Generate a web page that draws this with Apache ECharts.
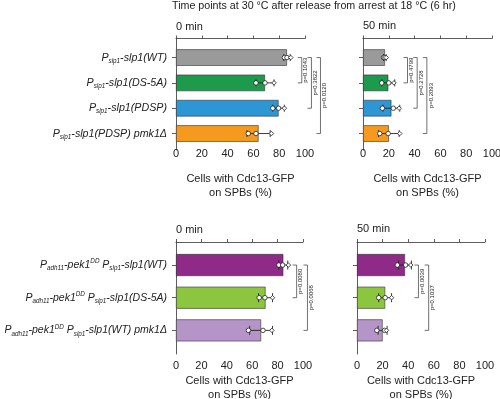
<!DOCTYPE html>
<html><head><meta charset="utf-8">
<script src="https://cdn.jsdelivr.net/npm/echarts@6/dist/echarts.min.js"></script>
<style>html,body{margin:0;padding:0;background:#fff}#c{width:500px;height:399px}</style>
</head><body><div id="c"></div>
<script>
// ---- data ----
const topLabels = [
  '{p|P}{s|slp1}{p|-slp1(WT)}',
  '{p|P}{s|slp1}{p|-slp1(DS-5A)}',
  '{p|P}{s|slp1}{p|-slp1(PDSP)}',
  '{p|P}{s|slp1}{p|-slp1(PDSP) pmk1Δ}'
];
const botLabels = [
  '{p|P}{s|adh11}{p|-pek1}{u|DD}{p| P}{s|slp1}{p|-slp1(WT)}',
  '{p|P}{s|adh11}{p|-pek1}{u|DD}{p| P}{s|slp1}{p|-slp1(DS-5A)}',
  '{p|P}{s|adh11}{p|-pek1}{u|DD}{p| P}{s|slp1}{p|-slp1(WT) pmk1Δ}'
];
const xTicks = [0, 20, 40, 60, 80, 100];

const top0Mean = [86, 69, 79.5, 64];
const top0Err = [2.5, 7, 4.5, 9];
const top0Pts = [[84, 86, 89], [62, 69, 76], [75, 79.5, 84], [56, 62, 74]];
const top0BrX = [97.5, 105, 112];
const top0BrPairs = [[0, 1], [0, 2], [0, 3]];
const top0BrText = ['p=0.1043', 'p=0.3822', 'p=0.0120'];

const top50Mean = [17, 19.6, 22, 20];
const top50Err = [1, 5, 6.5, 8];
const top50Pts = [[16, 17, 18], [14.5, 20, 24], [15, 23.5, 28], [13, 19.5, 28.5]];
const top50BrX = [34.5, 42, 49.5];
const top50BrPairs = [[0, 1], [0, 2], [0, 3]];
const top50BrText = ['p=0.4799', 'p=0.2728', 'p=0.2093'];

const bot0Mean = [84.5, 70.5, 67];
const bot0Err = [3.5, 5.5, 9];
const bot0Pts = [[81, 84, 88.5], [65.5, 70, 76], [57, 68.5, 75.5]];
const bot0BrX = [95, 103.5];
const bot0BrPairs = [[0, 1], [0, 2]];
const bot0BrText = ['p=0.0080', 'p=0.0068'];

const bot50Mean = [37.5, 22, 20];
const bot50Err = [5, 5, 3.5];
const bot50Pts = [[31.5, 38, 42], [17, 22, 27], [15.5, 21.5, 23]];
const bot50BrX = [48, 56];
const bot50BrPairs = [[0, 1], [0, 2]];
const bot50BrText = ['p=0.0039', 'p=0.1037'];

// ---- styles ----
const topColors = ['#9a9a9a', '#1d9a4c', '#2d97d6', '#f5991f'];
const botColors = ['#8f2a88', '#8cc63f', '#b594c8'];
const ptShapes = ['circle', 'circle', 'diamond'];
const FONT = 'Liberation Sans, Arial, sans-serif';
const TXT = '#222';
const LINE = '#333';

function makeRich(fs) {
  return {
    p: {fontStyle: 'italic', fontSize: fs, fontFamily: FONT, color: TXT, lineHeight: 13},
    s: {fontStyle: 'italic', fontSize: 6.3, fontFamily: FONT, color: TXT, lineHeight: 7, verticalAlign: 'bottom'},
    u: {fontStyle: 'italic', fontSize: 6.3, fontFamily: FONT, color: TXT, lineHeight: 7, verticalAlign: 'top'}
  };
}

const panels = [
  {left: 176, width: 129, top: 44.9, height: 101.3, ftop: 38.5, fh: 111.5, labels: topLabels, mean: top0Mean, err: top0Err, pts: top0Pts, brX: top0BrX, brP: top0BrPairs, brT: top0BrText, colors: topColors, bw: 16.5, cap: 3.5, lm: 2, ng: 26, showLab: true, fs: 10.7},
  {left: 363, width: 129, top: 44.9, height: 101.3, ftop: 38.5, fh: 111.5, labels: topLabels, mean: top50Mean, err: top50Err, pts: top50Pts, brX: top50BrX, brP: top50BrPairs, brT: top50BrText, colors: topColors, bw: 16.5, cap: 3.5, lm: 2, ng: 26, showLab: false, fs: 10.7},
  {left: 176, width: 127, top: 248.7, height: 98, ftop: 242, fh: 112, labels: botLabels, mean: bot0Mean, err: bot0Err, pts: bot0Pts, brX: bot0BrX, brP: bot0BrPairs, brT: bot0BrText, colors: botColors, bw: 22, cap: 4.5, lm: 14, ng: 27, showLab: true, fs: 10.5},
  {left: 357, width: 128, top: 248.7, height: 98, ftop: 242, fh: 112, labels: botLabels, mean: bot50Mean, err: bot50Err, pts: bot50Pts, brX: bot50BrX, brP: bot50BrPairs, brT: bot50BrText, colors: botColors, bw: 22, cap: 4.5, lm: 14, ng: 27, showLab: false, fs: 10.5}
];

const grid = [], xAxis = [], yAxis = [], series = [];

panels.forEach(pn => {
  grid.push({left: pn.left, width: pn.width, top: pn.top, height: pn.height, containLabel: false, outerBoundsMode: 'none'});
});
panels.forEach(pn => {
  grid.push({left: pn.left, width: pn.width, top: pn.ftop, height: pn.fh, containLabel: false, outerBoundsMode: 'none'});
});

panels.forEach((pn, k) => {
  xAxis.push({
    gridIndex: k, type: 'value', min: 0, max: 100, interval: 20, position: 'bottom',
    axisLine: {show: false}, axisTick: {show: false}, splitLine: {show: false},
    axisLabel: {fontSize: 11, color: TXT, fontFamily: FONT, margin: pn.lm, customValues: xTicks},
    name: 'Cells with Cdc13-GFP\non SPBs (%)', nameLocation: 'middle', nameGap: pn.ng,
    nameTextStyle: {fontSize: 11, color: TXT, fontFamily: FONT, lineHeight: 14}
  });
  yAxis.push({
    gridIndex: k, type: 'category', inverse: true, data: pn.labels,
    axisLine: {show: false},
    axisTick: {show: true, alignWithLabel: true, length: 4, lineStyle: {color: LINE, width: 0.8}},
    axisLabel: {show: pn.showLab, margin: 9, rich: makeRich(pn.fs), formatter: v => v},
    splitLine: {show: false}
  });
});
panels.forEach((pn, k) => {
  xAxis.push({
    gridIndex: 4 + k, type: 'value', min: 0, max: 100, interval: 20, position: 'top',
    axisLine: {show: true, onZero: false, lineStyle: {color: LINE, width: 0.8}},
    axisTick: {show: true, inside: false, length: 3, lineStyle: {color: LINE, width: 0.8}},
    axisLabel: {show: false}, splitLine: {show: false}
  });
  yAxis.push({
    gridIndex: 4 + k, type: 'value', min: 0, max: 1,
    axisLine: {show: true, onZero: false, lineStyle: {color: LINE, width: 0.8}},
    axisTick: {show: false}, axisLabel: {show: false}, splitLine: {show: false}
  });
});

panels.forEach((pn, k) => {
  series.push({
    type: 'bar', xAxisIndex: k, yAxisIndex: k, barWidth: pn.bw, silent: true,
    data: pn.mean.map((m, i) => ({value: m, itemStyle: {color: pn.colors[i], borderColor: LINE, borderWidth: 0.6}})),
    z: 2
  });
  series.push({
    type: 'custom', xAxisIndex: k, yAxisIndex: k, z: 3, silent: true,
    data: pn.mean.map((m, i) => [m, i, pn.err[i]]),
    encode: {x: 0, y: 1},
    renderItem: (params, api) => {
      const m = api.value(0), i = api.value(1), e = api.value(2);
      const a = api.coord([m - e, i]), b = api.coord([m + e, i]);
      const st = {stroke: '#222', lineWidth: 0.9};
      return {type: 'group', children: [
        {type: 'line', shape: {x1: a[0], y1: a[1], x2: b[0], y2: b[1]}, style: st},
        {type: 'line', shape: {x1: a[0], y1: a[1] - pn.cap, x2: a[0], y2: a[1] + pn.cap}, style: st},
        {type: 'line', shape: {x1: b[0], y1: b[1] - pn.cap, x2: b[0], y2: b[1] + pn.cap}, style: st}
      ]};
    }
  });
  const pd = [];
  pn.pts.forEach((row, i) => row.forEach((v, j) => pd.push({value: [v, i], symbol: ptShapes[j]})));
  series.push({
    type: 'scatter', xAxisIndex: k, yAxisIndex: k, z: 4, silent: true,
    symbolSize: 4.5, data: pd,
    itemStyle: {color: '#fff', borderColor: '#222', borderWidth: 0.8, opacity: 1}
  });
  series.push({
    type: 'custom', xAxisIndex: k, yAxisIndex: k, z: 5, silent: true, clip: false,
    data: pn.brX.map((x, j) => [x, pn.brP[j][0], pn.brP[j][1]]),
    encode: {x: 0, y: [1, 2]},
    renderItem: (params, api) => {
      const x = api.value(0), c1 = api.value(1), c2 = api.value(2);
      const p1 = api.coord([x, c1]), p2 = api.coord([x, c2]);
      const arm = 4;
      return {type: 'group', children: [
        {type: 'polyline', shape: {points: [[p1[0] - arm, p1[1]], [p1[0], p1[1]], [p2[0], p2[1]], [p2[0] - arm, p2[1]]]},
          style: {stroke: '#333', lineWidth: 0.7, fill: null}},
        {type: 'text', x: p1[0] + 4, y: (p1[1] + p2[1]) / 2, rotation: Math.PI / 2,
          style: {text: pn.brT[params.dataIndex], fontSize: 6, fontFamily: FONT, fill: TXT, align: 'center', verticalAlign: 'middle'}}
      ]};
    }
  });
});

const title = [
  {text: 'Time points at 30 °C after release from arrest at 18 °C (6 hr)', left: 172, top: 1, padding: 0,
    textStyle: {fontSize: 10.7, fontWeight: 'normal', color: TXT, fontFamily: FONT}},
  {text: '0 min', left: 176, top: 21, padding: 0, textStyle: {fontSize: 11, fontWeight: 'normal', color: TXT, fontFamily: FONT}},
  {text: '50 min', left: 363, top: 20, padding: 0, textStyle: {fontSize: 11, fontWeight: 'normal', color: TXT, fontFamily: FONT}},
  {text: '0 min', left: 176, top: 224, padding: 0, textStyle: {fontSize: 11, fontWeight: 'normal', color: TXT, fontFamily: FONT}},
  {text: '50 min', left: 357, top: 223, padding: 0, textStyle: {fontSize: 11, fontWeight: 'normal', color: TXT, fontFamily: FONT}}
];

const chart = echarts.init(document.getElementById('c'), null, {renderer: 'canvas'});
chart.setOption({animation: false, backgroundColor: '#fff', title, grid, xAxis, yAxis, series});
</script></body></html>
